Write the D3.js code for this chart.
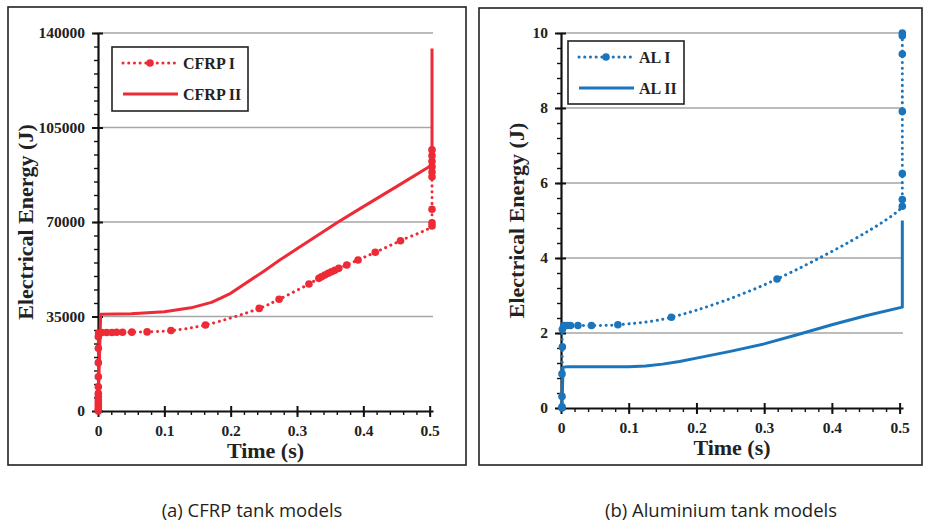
<!DOCTYPE html>
<html>
<head>
<meta charset="utf-8">
<script src="https://cdn.jsdelivr.net/npm/d3@7"></script>
<style>
  html, body { margin: 0; padding: 0; background: #fff; }
  svg { display: block; }
</style>
</head>
<body>
<svg id="chart" width="925" height="523"></svg>
<script>
// ---- CFRP tank models (time s, energy J) ----
const cfrpI = [
  [0.0005, 0], [0.0005, 370], [0.0005, 1200], [0.0005, 2220], [0.0005, 3100], [0.0005, 4070],
  [0.0005, 5300], [0.0005, 6550], [0.0005, 9000], [0.0005, 12700], [0.0005, 17900],
  [0.0005, 23200], [0.0005, 27500], [0.001, 28800],
  [0.0056, 29100], [0.013, 29100], [0.021, 29100], [0.028, 29150], [0.037, 29150],
  [0.051, 29200], [0.074, 29300], [0.110, 29800], [0.162, 31850],
  [0.243, 38000], [0.273, 41370], [0.318, 47040], [0.333, 49130], [0.337, 49700],
  [0.342, 50370], [0.347, 51000], [0.352, 51600], [0.357, 52100], [0.363, 52840],
  [0.375, 54070], [0.392, 55930], [0.418, 58770], [0.456, 63080], [0.5035, 68520],
  [0.5035, 69750], [0.5035, 74700], [0.5035, 86780], [0.5035, 88500], [0.5035, 90500],
  [0.5035, 92500], [0.5035, 94500], [0.5035, 96700]
];
const cfrpII = [
  [0, 0], [0.004, 35800], [0.05, 36000], [0.1, 36800], [0.14, 38200], [0.171, 40250],
  [0.185, 41800], [0.2, 43580], [0.25, 51800], [0.274, 55900], [0.3, 60070],
  [0.362, 70000], [0.4, 75700], [0.45, 83100], [0.5035, 91100], [0.5035, 134300]
];

// ---- Aluminium tank models (time s, energy J) ----
const alI = [
  [0.0015, 0], [0.0015, 0.03], [0.0015, 0.31], [0.0015, 0.91], [0.002, 1.63], [0.002, 2.1],
  [0.004, 2.2], [0.009, 2.2], [0.014, 2.2], [0.025, 2.2], [0.045, 2.2], [0.084, 2.22],
  [0.163, 2.42], [0.319, 3.44], [0.504, 5.38], [0.504, 5.56], [0.504, 6.25],
  [0.504, 7.91], [0.504, 9.44], [0.504, 9.93], [0.504, 10.0]
];
const alII = [
  [0.0015, 0], [0.003, 1.09], [0.01, 1.1], [0.1, 1.1], [0.125, 1.12], [0.15, 1.17],
  [0.175, 1.24], [0.2, 1.33], [0.25, 1.51], [0.3, 1.71], [0.35, 1.96], [0.4, 2.22],
  [0.45, 2.46], [0.504, 2.69], [0.504, 5.0]
];

const xTicks = [0, 0.1, 0.2, 0.3, 0.4, 0.5];
const cfrpTicks = [0, 35000, 70000, 105000, 140000];
const alTicks = [0, 2, 4, 6, 8, 10];

const RED = "#ed2a36";
const BLUE = "#1a75bc";
const SERIF = "'Liberation Serif', 'Times New Roman', serif";

const svg = d3.select("#chart");

function drawPanel(cfg) {
  const g = svg.append("g");
  // panel frame
  g.append("rect")
    .attr("x", cfg.frame[0]).attr("y", cfg.frame[1])
    .attr("width", cfg.frame[2]).attr("height", cfg.frame[3])
    .attr("fill", "none").attr("stroke", "#222").attr("stroke-width", 1.6);

  const x = d3.scaleLinear().domain([0, 0.505]).range([cfg.left, cfg.right]);
  const y = d3.scaleLinear().domain([0, cfg.yMax]).range([cfg.bottom, cfg.top]);

  // horizontal gridlines
  g.append("g").selectAll("line")
    .data(cfg.yTicks.filter(d => d > 0))
    .join("line")
    .attr("x1", cfg.left).attr("x2", cfg.right)
    .attr("y1", d => y(d)).attr("y2", d => y(d))
    .attr("stroke", "#a6a6a6").attr("stroke-width", 1.4);

  // minor ticks
  const yMinor = d3.range(0, cfg.yMax + 1e-9, cfg.yMinorStep);
  g.append("g").call(d3.axisLeft(y).tickValues(yMinor).tickSize(4).tickFormat(""))
    .attr("transform", `translate(${cfg.left},0)`)
    .call(s => s.select(".domain").remove())
    .selectAll("line").attr("stroke", "#111").attr("stroke-width", 1.4);
  const xMinor = d3.range(0, 0.5001, 0.02);
  g.append("g").call(d3.axisBottom(x).tickValues(xMinor).tickSize(4).tickFormat(""))
    .attr("transform", `translate(0,${cfg.bottom})`)
    .call(s => s.select(".domain").remove())
    .selectAll("line").attr("stroke", "#111").attr("stroke-width", 1.4);

  // major axes
  const yAxis = g.append("g")
    .attr("transform", `translate(${cfg.left},0)`)
    .call(d3.axisLeft(y).tickValues(cfg.yTicks).tickSize(6).tickSizeOuter(0).tickPadding(7)
      .tickFormat(d3.format("d")));
  yAxis.select(".domain").attr("stroke", "#111").attr("stroke-width", 2.2);
  yAxis.selectAll(".tick line").attr("stroke", "#111").attr("stroke-width", 2)
    .attr("x1", 5);
  yAxis.selectAll("text").attr("font-family", SERIF).attr("font-weight", "bold")
    .attr("font-size", 15.5).attr("fill", "#222");

  const xAxis = g.append("g")
    .attr("transform", `translate(0,${cfg.bottom})`)
    .call(d3.axisBottom(x).tickValues(xTicks).tickSize(6).tickSizeOuter(0).tickPadding(8)
      .tickFormat(d => d === 0 ? "0" : d3.format(".1f")(d)));
  xAxis.select(".domain").attr("stroke", "#111").attr("stroke-width", 2.2);
  xAxis.selectAll(".tick line").attr("stroke", "#111").attr("stroke-width", 2)
    .attr("y1", -5);
  xAxis.selectAll("text").attr("font-family", SERIF).attr("font-weight", "bold")
    .attr("font-size", 15.5).attr("fill", "#222");

  // axis titles
  g.append("text")
    .attr("x", (cfg.left + cfg.right) / 2).attr("y", cfg.bottom + 47)
    .attr("text-anchor", "middle")
    .attr("font-family", SERIF).attr("font-weight", "bold").attr("font-size", 22)
    .attr("fill", "#222").text("Time (s)");
  g.append("text")
    .attr("transform", `translate(${cfg.yTitleX},${(cfg.top + cfg.bottom) / 2}) rotate(-90)`)
    .attr("text-anchor", "middle")
    .attr("font-family", SERIF).attr("font-weight", "bold").attr("font-size", 22)
    .attr("fill", "#222").text("Electrical Energy (J)");

  const lineLinear = d3.line().x(d => x(d[0])).y(d => y(d[1]));
  const lineSmooth = d3.line().x(d => x(d[0])).y(d => y(d[1])).curve(d3.curveCatmullRom.alpha(0.5));

  // solid series
  g.append("path").datum(cfg.solid)
    .attr("d", lineLinear)
    .attr("fill", "none").attr("stroke", cfg.color).attr("stroke-width", 3)
    .attr("stroke-linejoin", "round");

  // dotted series with markers
  g.append("path").datum(cfg.dotted)
    .attr("d", lineSmooth)
    .attr("fill", "none").attr("stroke", cfg.color).attr("stroke-width", 3)
    .attr("stroke-dasharray", "0.1 5.6").attr("stroke-linecap", "round");
  g.append("g").selectAll("circle")
    .data(cfg.dotted)
    .join("circle")
    .attr("cx", d => x(d[0])).attr("cy", d => y(d[1]))
    .attr("r", 3.8).attr("fill", cfg.color);

  // legend
  const L = cfg.legend;
  g.append("rect")
    .attr("x", L.x).attr("y", L.y).attr("width", L.w).attr("height", L.h)
    .attr("fill", "#fff").attr("stroke", "#222").attr("stroke-width", 1.6);
  const r1 = L.y + 16, r2 = L.y + 47;
  g.append("line")
    .attr("x1", L.x + 11).attr("x2", L.x + 64).attr("y1", r1).attr("y2", r1)
    .attr("stroke", cfg.color).attr("stroke-width", 3)
    .attr("stroke-dasharray", "0.1 5.6").attr("stroke-linecap", "round");
  g.append("circle").attr("cx", L.x + 38).attr("cy", r1).attr("r", 3.8).attr("fill", cfg.color);
  g.append("line")
    .attr("x1", L.x + 11).attr("x2", L.x + 66).attr("y1", r2).attr("y2", r2)
    .attr("stroke", cfg.color).attr("stroke-width", 3);
  [[r1, cfg.names[0]], [r2, cfg.names[1]]].forEach(([ry, name]) => {
    g.append("text")
      .attr("x", L.x + 71).attr("y", ry + 5.5)
      .attr("font-family", SERIF).attr("font-weight", "bold").attr("font-size", 16)
      .attr("fill", "#222").text(name);
  });

  // caption
  svg.append("text")
    .attr("x", cfg.captionX).attr("y", 517)
    .attr("text-anchor", "middle")
    .attr("font-family", "'Open Sans', 'Noto Sans', sans-serif").attr("font-size", 18.5)
    .attr("fill", "#231f20").text(cfg.caption);
}

drawPanel({
  frame: [8, 7, 458, 458],
  left: 98, right: 433, top: 33, bottom: 411,
  yMax: 140000, yTicks: cfrpTicks, yMinorStep: 5000,
  yTitleX: 33,
  color: RED, dotted: cfrpI, solid: cfrpII,
  names: ["CFRP I", "CFRP II"],
  legend: { x: 112, y: 47, w: 136, h: 64 },
  caption: "(a) CFRP tank models", captionX: 252
});

drawPanel({
  frame: [479, 8, 443, 457],
  left: 561, right: 903, top: 33, bottom: 408,
  yMax: 10, yTicks: alTicks, yMinorStep: 0.4,
  yTitleX: 524,
  color: BLUE, dotted: alI, solid: alII,
  names: ["AL I", "AL II"],
  legend: { x: 568, y: 41, w: 116, h: 63 },
  caption: "(b) Aluminium tank models", captionX: 721
});
</script>
</body>
</html>
